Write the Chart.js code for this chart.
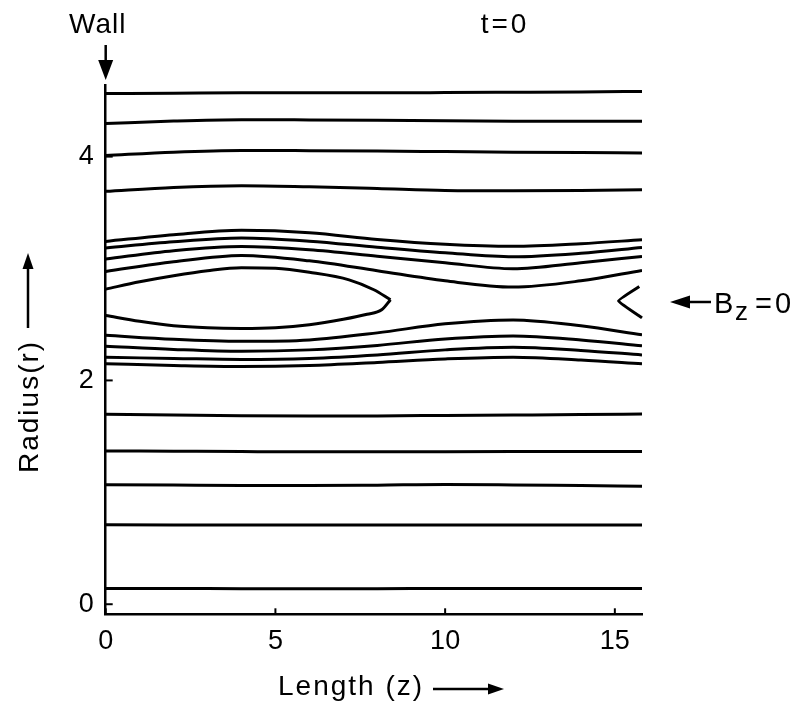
<!DOCTYPE html>
<html>
<head>
<meta charset="utf-8">
<script src="https://cdn.jsdelivr.net/npm/chart.js@4.4.1/dist/chart.umd.min.js"></script>
<style>
  html, body { margin: 0; padding: 0; background: #fff; }
  #wrap { width: 806px; height: 708px; }
</style>
</head>
<body>
<div id="wrap"><canvas id="c" width="806" height="708"></canvas></div>
<script>
// ---- tick labels ----
const xTicks = [0, 5, 10, 15];
const yTicks = [0, 2, 4];

// ---- contour lines sampled along z (Length) ----
const zFull = [0, 2, 4, 6, 8, 10, 12, 14, 15.8];
const rTop1 = [4.563, 4.566, 4.570, 4.570, 4.570, 4.572, 4.575, 4.578, 4.582];
const rTop2 = [4.295, 4.318, 4.330, 4.328, 4.325, 4.320, 4.317, 4.316, 4.316];
const rTop3 = [4.010, 4.040, 4.055, 4.053, 4.050, 4.045, 4.040, 4.036, 4.033];
const rTop4 = [3.690, 3.725, 3.740, 3.730, 3.715, 3.698, 3.695, 3.698, 3.705];
const rUp1  = [3.242, 3.302, 3.341, 3.320, 3.260, 3.217, 3.199, 3.222, 3.257];
const rUp2  = [3.183, 3.239, 3.272, 3.244, 3.190, 3.141, 3.105, 3.136, 3.188];
const rUp3  = [3.085, 3.159, 3.197, 3.168, 3.110, 3.051, 2.998, 3.051, 3.108];
const rUp4  = [2.974, 3.060, 3.117, 3.069, 2.980, 2.890, 2.834, 2.890, 2.983];
const rLow1 = [2.403, 2.367, 2.349, 2.362, 2.425, 2.506, 2.541, 2.488, 2.407];
const rLow2 = [2.306, 2.277, 2.260, 2.273, 2.313, 2.371, 2.398, 2.362, 2.309];
const rLow3 = [2.206, 2.197, 2.188, 2.197, 2.228, 2.273, 2.297, 2.268, 2.228];
const rLow4 = [2.149, 2.134, 2.125, 2.134, 2.161, 2.192, 2.208, 2.183, 2.148];
const rBot1 = [1.698, 1.690, 1.684, 1.682, 1.683, 1.687, 1.691, 1.695, 1.700];
const rBot2 = [1.370, 1.367, 1.364, 1.362, 1.362, 1.363, 1.364, 1.365, 1.365];
const rBot3 = [1.068, 1.065, 1.062, 1.060, 1.064, 1.070, 1.066, 1.060, 1.055];
const rBot4 = [0.710, 0.709, 0.708, 0.708, 0.708, 0.708, 0.708, 0.707, 0.707];
const rBot5 = [0.140, 0.140, 0.139, 0.139, 0.139, 0.140, 0.140, 0.140, 0.140];

// ---- B_z = 0 separatrix loop (left) ----
const zLoopUpper = [0, 1, 2, 3, 4, 5, 6, 7.17, 7.9, 8.39];
const rLoopUpper = [2.816, 2.881, 2.935, 2.980, 3.007, 3.002, 2.966, 2.899, 2.810, 2.721];
const zLoopLower = [0, 1, 2, 3, 4, 5, 6, 7, 7.7, 8.13, 8.39];
const rLoopLower = [2.580, 2.528, 2.488, 2.470, 2.465, 2.471, 2.497, 2.546, 2.591, 2.631, 2.721];

// ---- B_z = 0 loop (right edge) ----
const zRightLoop = [15.72, 15.11, 15.8];
const rRightLoop = [2.839, 2.711, 2.559];

const smoothLines = [rTop1, rTop2, rTop3, rTop4, rUp1, rUp2, rUp3, rUp4,
                     rLow1, rLow2, rLow3, rLow4, rBot1, rBot2, rBot3, rBot4, rBot5];

const pts = (zs, rs) => zs.map((z, i) => ({ x: z, y: rs[i] }));
const base = { showLine: true, pointRadius: 0, borderColor: '#000', borderWidth: 3,
               backgroundColor: '#000', fill: false, cubicInterpolationMode: 'monotone' };

const datasets = smoothLines.map(r => Object.assign({}, base, { data: pts(zFull, r) }));
datasets.push(Object.assign({}, base, { data: pts(zLoopUpper, rLoopUpper) }));
datasets.push(Object.assign({}, base, { data: pts(zLoopLower, rLoopLower) }));
datasets.push(Object.assign({}, base, { data: pts(zRightLoop, rRightLoop),
  cubicInterpolationMode: 'default', tension: 0.1, clip: 10 }));

const FONT = '"Liberation Sans", Arial, sans-serif';

function arrow(ctx, x1, y1, x2, y2, headLen, headHalf) {
  const dx = x2 - x1, dy = y2 - y1, L = Math.hypot(dx, dy);
  const ux = dx / L, uy = dy / L;
  const bx = x2 - ux * headLen, by = y2 - uy * headLen;
  ctx.beginPath();
  ctx.moveTo(x1, y1); ctx.lineTo(bx, by); ctx.stroke();
  ctx.beginPath();
  ctx.moveTo(x2, y2);
  ctx.lineTo(bx - uy * headHalf, by + ux * headHalf);
  ctx.lineTo(bx + uy * headHalf, by - ux * headHalf);
  ctx.closePath(); ctx.fill();
}

const annot = {
  id: 'annot',
  afterDraw(chart) {
    const ctx = chart.ctx, xs = chart.scales.x, ys = chart.scales.y, ca = chart.chartArea;
    ctx.save();
    ctx.strokeStyle = '#000'; ctx.fillStyle = '#000'; ctx.lineWidth = 2;
    // inward tick marks
    xTicks.forEach(v => { const p = xs.getPixelForValue(v);
      ctx.beginPath(); ctx.moveTo(p, ca.bottom); ctx.lineTo(p, ca.bottom - 6); ctx.stroke(); });
    yTicks.forEach(v => { const p = ys.getPixelForValue(v);
      ctx.beginPath(); ctx.moveTo(ca.left, p); ctx.lineTo(ca.left + 7, p); ctx.stroke(); });

    ctx.font = '28px ' + FONT;
    ctx.textBaseline = 'alphabetic';
    // Wall
    const wx = xs.getPixelForValue(0);
    ctx.textAlign = 'center';
    ctx.letterSpacing = '1px';
    ctx.fillText('Wall', wx - 8, 33);
    ctx.lineWidth = 2.5;
    arrow(ctx, wx, 45, wx, 80, 20, 7.5);
    // t=0
    ctx.letterSpacing = '3px';
    ctx.fillText('t=0', 505, 33);
    // B_z = 0
    ctx.textAlign = 'left';
    ctx.letterSpacing = '0px';
    arrow(ctx, 711, 302, 670, 302, 20, 6.5);
    ctx.font = '29px ' + FONT;
    ctx.fillText('B', 714, 313);
    ctx.font = '26px ' + FONT;
    ctx.fillText('z', 735, 320);
    ctx.font = '29px ' + FONT;
    ctx.letterSpacing = '3px';
    ctx.fillText('=0', 755, 313);
    // Length (z)
    ctx.font = '28px ' + FONT;
    ctx.letterSpacing = '2px';
    ctx.fillText('Length (z)', 278, 695);
    ctx.lineWidth = 2.5;
    arrow(ctx, 433, 689, 504, 689, 16, 5.5);
    // Radius(r)
    ctx.save();
    ctx.translate(38, 473);
    ctx.rotate(-Math.PI / 2);
    ctx.fillText('Radius(r)', 0, 0);
    ctx.restore();
    arrow(ctx, 28, 328, 28, 253, 16, 5.5);
    ctx.restore();
  }
};

new Chart(document.getElementById('c'), {
  type: 'scatter',
  data: { datasets },
  options: {
    responsive: false,
    devicePixelRatio: 1,
    animation: false,
    events: [],
    layout: { padding: { left: 0, right: 164, top: 85, bottom: 0 } },
    plugins: { legend: { display: false }, tooltip: { enabled: false } },
    scales: {
      x: {
        type: 'linear', min: 0, max: 15.8,
        afterFit: s => { s.height = 93.7; },
        afterBuildTicks: s => { s.ticks = xTicks.map(v => ({ value: v })); },
        grid: { display: true, drawOnChartArea: false, drawTicks: false },
        border: { display: true, color: '#000', width: 2.5 },
        ticks: { color: '#000', padding: 11, maxRotation: 0, autoSkip: false,
                 font: { family: FONT, size: 27 } }
      },
      y: {
        type: 'linear', min: -0.09, max: 4.64,
        afterFit: s => { s.width = 105.7; },
        afterBuildTicks: s => { s.ticks = yTicks.map(v => ({ value: v })); },
        grid: { display: true, drawOnChartArea: false, drawTicks: false },
        border: { display: true, color: '#000', width: 2.5 },
        ticks: { color: '#000', padding: 12, autoSkip: false,
                 font: { family: FONT, size: 27 } }
      }
    }
  },
  plugins: [annot]
});
</script>
</body>
</html>
